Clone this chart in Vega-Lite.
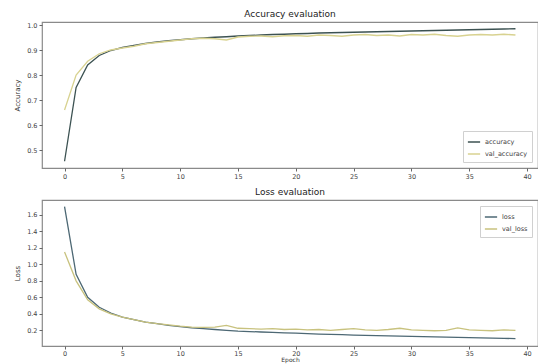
{
  "$schema": "https://vega.github.io/schema/vega-lite/v6.json",
  "padding": {"left": 13, "top": 9, "right": 0, "bottom": 0},
  "background": "white",
  "config": {
    "font": "DejaVu Sans",
    "view": {"stroke": "#8a8a8a", "strokeWidth": 1.2},
    "axis": {"grid": false, "domain": false, "tickSize": 3, "tickColor": "#666", "labelFontSize": 6.5, "labelColor": "#444", "titleFontSize": 7, "titleFontWeight": "normal", "titleColor": "#333"},
    "title": {"fontSize": 9, "fontWeight": "normal", "color": "#222", "offset": 3},
    "legend": {"labelFontSize": 6.5, "labelColor": "#444", "fillColor": "white", "strokeColor": "#d0d0d0", "padding": 4, "symbolType": "stroke", "symbolStrokeWidth": 1.5, "symbolSize": 150, "rowPadding": 1, "title": null}
  },
  "datasets": {
    "acc": [
      {"epoch":0,"metric":"accuracy","value":0.455},{"epoch":1,"metric":"accuracy","value":0.75},{"epoch":2,"metric":"accuracy","value":0.84},{"epoch":3,"metric":"accuracy","value":0.878},{"epoch":4,"metric":"accuracy","value":0.898},{"epoch":5,"metric":"accuracy","value":0.91},{"epoch":6,"metric":"accuracy","value":0.918},{"epoch":7,"metric":"accuracy","value":0.926},{"epoch":8,"metric":"accuracy","value":0.932},{"epoch":9,"metric":"accuracy","value":0.937},{"epoch":10,"metric":"accuracy","value":0.941},{"epoch":11,"metric":"accuracy","value":0.945},{"epoch":12,"metric":"accuracy","value":0.948},{"epoch":13,"metric":"accuracy","value":0.951},{"epoch":14,"metric":"accuracy","value":0.953},{"epoch":15,"metric":"accuracy","value":0.956},{"epoch":16,"metric":"accuracy","value":0.958},{"epoch":17,"metric":"accuracy","value":0.96},{"epoch":18,"metric":"accuracy","value":0.962},{"epoch":19,"metric":"accuracy","value":0.963},{"epoch":20,"metric":"accuracy","value":0.965},{"epoch":21,"metric":"accuracy","value":0.966},{"epoch":22,"metric":"accuracy","value":0.968},{"epoch":23,"metric":"accuracy","value":0.969},{"epoch":24,"metric":"accuracy","value":0.97},{"epoch":25,"metric":"accuracy","value":0.971},{"epoch":26,"metric":"accuracy","value":0.972},{"epoch":27,"metric":"accuracy","value":0.973},{"epoch":28,"metric":"accuracy","value":0.974},{"epoch":29,"metric":"accuracy","value":0.975},{"epoch":30,"metric":"accuracy","value":0.976},{"epoch":31,"metric":"accuracy","value":0.977},{"epoch":32,"metric":"accuracy","value":0.978},{"epoch":33,"metric":"accuracy","value":0.979},{"epoch":34,"metric":"accuracy","value":0.98},{"epoch":35,"metric":"accuracy","value":0.981},{"epoch":36,"metric":"accuracy","value":0.982},{"epoch":37,"metric":"accuracy","value":0.983},{"epoch":38,"metric":"accuracy","value":0.984},{"epoch":39,"metric":"accuracy","value":0.985},
      {"epoch":0,"metric":"val_accuracy","value":0.66},{"epoch":1,"metric":"val_accuracy","value":0.8},{"epoch":2,"metric":"val_accuracy","value":0.855},{"epoch":3,"metric":"val_accuracy","value":0.885},{"epoch":4,"metric":"val_accuracy","value":0.9},{"epoch":5,"metric":"val_accuracy","value":0.908},{"epoch":6,"metric":"val_accuracy","value":0.915},{"epoch":7,"metric":"val_accuracy","value":0.925},{"epoch":8,"metric":"val_accuracy","value":0.93},{"epoch":9,"metric":"val_accuracy","value":0.935},{"epoch":10,"metric":"val_accuracy","value":0.94},{"epoch":11,"metric":"val_accuracy","value":0.945},{"epoch":12,"metric":"val_accuracy","value":0.947},{"epoch":13,"metric":"val_accuracy","value":0.945},{"epoch":14,"metric":"val_accuracy","value":0.94},{"epoch":15,"metric":"val_accuracy","value":0.952},{"epoch":16,"metric":"val_accuracy","value":0.955},{"epoch":17,"metric":"val_accuracy","value":0.956},{"epoch":18,"metric":"val_accuracy","value":0.953},{"epoch":19,"metric":"val_accuracy","value":0.957},{"epoch":20,"metric":"val_accuracy","value":0.958},{"epoch":21,"metric":"val_accuracy","value":0.955},{"epoch":22,"metric":"val_accuracy","value":0.96},{"epoch":23,"metric":"val_accuracy","value":0.958},{"epoch":24,"metric":"val_accuracy","value":0.955},{"epoch":25,"metric":"val_accuracy","value":0.96},{"epoch":26,"metric":"val_accuracy","value":0.962},{"epoch":27,"metric":"val_accuracy","value":0.958},{"epoch":28,"metric":"val_accuracy","value":0.96},{"epoch":29,"metric":"val_accuracy","value":0.956},{"epoch":30,"metric":"val_accuracy","value":0.962},{"epoch":31,"metric":"val_accuracy","value":0.96},{"epoch":32,"metric":"val_accuracy","value":0.963},{"epoch":33,"metric":"val_accuracy","value":0.958},{"epoch":34,"metric":"val_accuracy","value":0.955},{"epoch":35,"metric":"val_accuracy","value":0.96},{"epoch":36,"metric":"val_accuracy","value":0.962},{"epoch":37,"metric":"val_accuracy","value":0.96},{"epoch":38,"metric":"val_accuracy","value":0.963},{"epoch":39,"metric":"val_accuracy","value":0.96}
    ],
    "loss": [
      {"epoch":0,"metric":"loss","value":1.7},{"epoch":1,"metric":"loss","value":0.88},{"epoch":2,"metric":"loss","value":0.6},{"epoch":3,"metric":"loss","value":0.48},{"epoch":4,"metric":"loss","value":0.41},{"epoch":5,"metric":"loss","value":0.36},{"epoch":6,"metric":"loss","value":0.33},{"epoch":7,"metric":"loss","value":0.3},{"epoch":8,"metric":"loss","value":0.28},{"epoch":9,"metric":"loss","value":0.26},{"epoch":10,"metric":"loss","value":0.245},{"epoch":11,"metric":"loss","value":0.23},{"epoch":12,"metric":"loss","value":0.22},{"epoch":13,"metric":"loss","value":0.21},{"epoch":14,"metric":"loss","value":0.2},{"epoch":15,"metric":"loss","value":0.19},{"epoch":16,"metric":"loss","value":0.185},{"epoch":17,"metric":"loss","value":0.18},{"epoch":18,"metric":"loss","value":0.175},{"epoch":19,"metric":"loss","value":0.17},{"epoch":20,"metric":"loss","value":0.165},{"epoch":21,"metric":"loss","value":0.16},{"epoch":22,"metric":"loss","value":0.155},{"epoch":23,"metric":"loss","value":0.15},{"epoch":24,"metric":"loss","value":0.147},{"epoch":25,"metric":"loss","value":0.143},{"epoch":26,"metric":"loss","value":0.14},{"epoch":27,"metric":"loss","value":0.136},{"epoch":28,"metric":"loss","value":0.133},{"epoch":29,"metric":"loss","value":0.13},{"epoch":30,"metric":"loss","value":0.127},{"epoch":31,"metric":"loss","value":0.124},{"epoch":32,"metric":"loss","value":0.12},{"epoch":33,"metric":"loss","value":0.117},{"epoch":34,"metric":"loss","value":0.114},{"epoch":35,"metric":"loss","value":0.111},{"epoch":36,"metric":"loss","value":0.108},{"epoch":37,"metric":"loss","value":0.105},{"epoch":38,"metric":"loss","value":0.102},{"epoch":39,"metric":"loss","value":0.1},
      {"epoch":0,"metric":"val_loss","value":1.15},{"epoch":1,"metric":"val_loss","value":0.8},{"epoch":2,"metric":"val_loss","value":0.57},{"epoch":3,"metric":"val_loss","value":0.46},{"epoch":4,"metric":"val_loss","value":0.4},{"epoch":5,"metric":"val_loss","value":0.36},{"epoch":6,"metric":"val_loss","value":0.33},{"epoch":7,"metric":"val_loss","value":0.3},{"epoch":8,"metric":"val_loss","value":0.28},{"epoch":9,"metric":"val_loss","value":0.265},{"epoch":10,"metric":"val_loss","value":0.25},{"epoch":11,"metric":"val_loss","value":0.24},{"epoch":12,"metric":"val_loss","value":0.235},{"epoch":13,"metric":"val_loss","value":0.24},{"epoch":14,"metric":"val_loss","value":0.26},{"epoch":15,"metric":"val_loss","value":0.225},{"epoch":16,"metric":"val_loss","value":0.22},{"epoch":17,"metric":"val_loss","value":0.215},{"epoch":18,"metric":"val_loss","value":0.22},{"epoch":19,"metric":"val_loss","value":0.21},{"epoch":20,"metric":"val_loss","value":0.215},{"epoch":21,"metric":"val_loss","value":0.205},{"epoch":22,"metric":"val_loss","value":0.21},{"epoch":23,"metric":"val_loss","value":0.2},{"epoch":24,"metric":"val_loss","value":0.21},{"epoch":25,"metric":"val_loss","value":0.22},{"epoch":26,"metric":"val_loss","value":0.205},{"epoch":27,"metric":"val_loss","value":0.2},{"epoch":28,"metric":"val_loss","value":0.21},{"epoch":29,"metric":"val_loss","value":0.225},{"epoch":30,"metric":"val_loss","value":0.205},{"epoch":31,"metric":"val_loss","value":0.2},{"epoch":32,"metric":"val_loss","value":0.195},{"epoch":33,"metric":"val_loss","value":0.2},{"epoch":34,"metric":"val_loss","value":0.23},{"epoch":35,"metric":"val_loss","value":0.205},{"epoch":36,"metric":"val_loss","value":0.2},{"epoch":37,"metric":"val_loss","value":0.195},{"epoch":38,"metric":"val_loss","value":0.205},{"epoch":39,"metric":"val_loss","value":0.2}
    ]
  },
  "spacing": 6,
  "resolve": {"scale": {"color": "independent", "x": "independent", "y": "independent"}, "legend": {"color": "independent"}},
  "vconcat": [
    {
      "title": "Accuracy evaluation",
      "width": 496,
      "height": 146,
      "data": {"name": "acc"},
      "mark": {"type": "line", "strokeWidth": 1.3, "clip": true},
      "encoding": {
        "x": {"field": "epoch", "type": "quantitative", "scale": {"domain": [-1.95, 40.95], "nice": false, "zero": false}, "axis": {"values": [0,5,10,15,20,25,30,35,40], "title": null}},
        "y": {"field": "value", "type": "quantitative", "scale": {"domain": [0.428, 1.012], "nice": false, "zero": false}, "axis": {"values": [0.5,0.6,0.7,0.8,0.9,1.0], "format": ".1f", "title": "Accuracy", "titlePadding": 6}},
        "color": {"field": "metric", "type": "nominal", "scale": {"domain": ["accuracy","val_accuracy"], "range": ["#3c5252","#d8d290"]}, "legend": {"orient": "bottom-right", "offset": 6}}
      }
    },
    {
      "title": "Loss evaluation",
      "width": 496,
      "height": 146,
      "data": {"name": "loss"},
      "mark": {"type": "line", "strokeWidth": 1.3, "clip": true},
      "encoding": {
        "x": {"field": "epoch", "type": "quantitative", "scale": {"domain": [-1.95, 40.95], "nice": false, "zero": false}, "axis": {"values": [0,5,10,15,20,25,30,35,40], "title": "Epoch", "titleFontSize": 6, "titlePadding": 0, "labelPadding": 1}},
        "y": {"field": "value", "type": "quantitative", "scale": {"domain": [0.01, 1.78], "nice": false, "zero": false}, "axis": {"values": [0.2,0.4,0.6,0.8,1.0,1.2,1.4,1.6], "format": ".1f", "title": "Loss", "titlePadding": 6}},
        "color": {"field": "metric", "type": "nominal", "scale": {"domain": ["loss","val_loss"], "range": ["#4d6874","#c8c27e"]}, "legend": {"orient": "top-right", "offset": 6}}
      }
    }
  ]
}
